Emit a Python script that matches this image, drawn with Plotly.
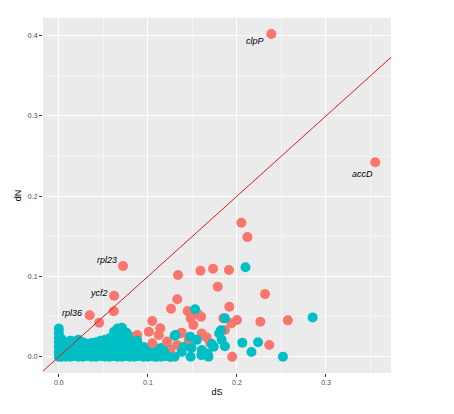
import plotly.graph_objects as go

# Couleurs ggplot par défaut
ROUGE = "#F8766D"
TURQUOISE = "#00BFC4"

# Gènes neutres (dessinés en premier, sous les autres)
ds_neutres_bas = [
    0.000, 0.000, 0.000, 0.000, 0.000, 0.000, 0.000,
    0.003, 0.003, 0.003, 0.003, 0.003,
    0.008, 0.008, 0.008, 0.008,
    0.013, 0.013, 0.013, 0.013,
    0.018, 0.018, 0.018, 0.018,
    0.022, 0.022, 0.022, 0.022,
    0.027, 0.027, 0.027, 0.027,
    0.032, 0.032, 0.032, 0.032,
    0.037, 0.037, 0.037, 0.037,
    0.042, 0.042, 0.042, 0.042,
    0.047, 0.047, 0.047, 0.047,
    0.052, 0.052, 0.052, 0.052,
    0.057, 0.057, 0.057, 0.057,
    0.062, 0.062, 0.062, 0.062, 0.062,
    0.066, 0.066, 0.066, 0.066, 0.066,
    0.071, 0.071, 0.071, 0.071, 0.071,
    0.076, 0.076, 0.076, 0.076,
    0.080, 0.080, 0.080, 0.080,
    0.085, 0.085, 0.085, 0.085,
    0.090, 0.090, 0.090, 0.090,
    0.095, 0.095, 0.095, 0.095,
    0.100, 0.100, 0.100,
    0.105, 0.105, 0.105,
    0.110, 0.110, 0.110,
    0.115, 0.115, 0.115,
    0.120, 0.120,
    0.125, 0.125,
    0.130, 0.130,
]
dn_neutres_bas = [
    0.000, 0.006, 0.012, 0.018, 0.024, 0.030, 0.035,
    0.000, 0.005, 0.011, 0.016, 0.022,
    0.000, 0.004, 0.010, 0.015,
    0.000, 0.006, 0.012, 0.020,
    0.001, 0.008, 0.014, 0.019,
    0.000, 0.005, 0.011, 0.021,
    0.000, 0.007, 0.013, 0.018,
    0.001, 0.006, 0.012, 0.016,
    0.000, 0.005, 0.010, 0.017,
    0.000, 0.007, 0.013, 0.018,
    0.001, 0.006, 0.012, 0.020,
    0.000, 0.005, 0.011, 0.021,
    0.000, 0.007, 0.014, 0.023,
    0.001, 0.006, 0.013, 0.021, 0.031,
    0.000, 0.008, 0.016, 0.026, 0.035,
    0.000, 0.005, 0.012, 0.020, 0.036,
    0.001, 0.007, 0.015, 0.030,
    0.000, 0.006, 0.013, 0.025,
    0.000, 0.008, 0.016, 0.024,
    0.001, 0.005, 0.011, 0.013,
    0.000, 0.007, 0.010, 0.012,
    0.000, 0.006, 0.011,
    0.001, 0.005, 0.011,
    0.000, 0.008, 0.010,
    0.000, 0.006, 0.011,
    0.001, 0.005,
    0.000, 0.009,
    0.000, 0.026,
]

# Gènes sous sélection
ds_selection = [
    0.2386, 0.3553, 0.205, 0.2118, 0.0721, 0.1338, 0.159, 0.1732, 0.191,
    0.1784, 0.2315, 0.0621, 0.133, 0.1914, 0.126, 0.0346, 0.0617, 0.0453,
    0.1446, 0.148, 0.155, 0.1598, 0.151, 0.157, 0.1847, 0.200, 0.194,
    0.1865, 0.2263, 0.2572, 0.2363, 0.1947, 0.1048, 0.088, 0.101, 0.114,
    0.1122, 0.105, 0.1364, 0.1327, 0.1457, 0.166, 0.170, 0.1215, 0.1605,
    0.125, 0.138,
]
dn_selection = [
    0.402, 0.2422, 0.167, 0.149, 0.113, 0.1018, 0.107, 0.1097, 0.108,
    0.0872, 0.078, 0.076, 0.0715, 0.0623, 0.0598, 0.0516, 0.0566, 0.0424,
    0.057, 0.0478, 0.054, 0.0498, 0.0395, 0.052, 0.0478, 0.0457, 0.0416,
    0.0333, 0.0436, 0.0453, 0.0146, 0.000, 0.0445, 0.027, 0.031, 0.0353,
    0.027, 0.0167, 0.029, 0.0146, 0.021, 0.024, 0.0167, 0.019, 0.029,
    0.007, 0.030,
]

# Gènes neutres dessinés par-dessus
ds_neutres_haut = [
    0.2096, 0.153, 0.1865, 0.285, 0.2516, 0.206, 0.2237, 0.2163, 0.182,
    0.1865, 0.1717, 0.167, 0.180, 0.1828, 0.174, 0.1605, 0.138, 0.148,
    0.168, 0.131, 0.1475, 0.155, 0.125, 0.1075, 0.115, 0.098, 0.140,
    0.080, 0.085, 0.092, 0.118, 0.149, 0.160, 0.088,
]
dn_neutres_haut = [
    0.1114, 0.059, 0.0478, 0.049, 0.000, 0.0175, 0.018, 0.0058, 0.033,
    0.013, 0.0158, 0.004, 0.029, 0.021, 0.0125, 0.0083, 0.006, 0.000,
    0.000, 0.027, 0.025, 0.021, 0.000, 0.000, 0.004, 0.002, 0.012,
    0.010, 0.002, 0.010, 0.006, 0.011, 0.002, 0.020,
]

# Étiquettes de gènes
genes = ["clpP", "accD", "rpl23", "ycf2", "rpl36"]
ds_genes = [0.2207, 0.3408, 0.0546, 0.0453, 0.0149]
dn_genes = [0.3934, 0.228, 0.1209, 0.079, 0.054]

# Droite dN = dS
diagonale = [-0.05, 0.40]

fig = go.Figure()

for xs, ys, coul in [
    (ds_neutres_bas, dn_neutres_bas, TURQUOISE),
    (ds_selection, dn_selection, ROUGE),
    (ds_neutres_haut, dn_neutres_haut, TURQUOISE),
]:
    fig.add_trace(go.Scatter(
        x=xs, y=ys, mode="markers",
        marker=dict(color=coul, size=10, line=dict(width=0)),
        showlegend=False, hoverinfo="x+y",
    ))

fig.add_trace(go.Scatter(
    x=diagonale, y=diagonale, mode="lines",
    line=dict(color="#E41A1C", width=1),
    showlegend=False, hoverinfo="skip",
))

for nom, x, y in zip(genes, ds_genes, dn_genes):
    fig.add_annotation(
        x=x, y=y, text=f"<i>{nom}</i>", showarrow=False,
        font=dict(family="Liberation Sans", size=9, color="black"),
    )

axe = dict(
    showgrid=True, gridcolor="white", gridwidth=1,
    zeroline=False, showline=False,
    ticks="outside", ticklen=3, tickcolor="#333333", tickwidth=1,
    tickformat=".1f", dtick=0.1,
    tickfont=dict(family="Liberation Sans", size=7, color="#4D4D4D"),
    minor=dict(dtick=0.05, showgrid=True, gridcolor="#F5F5F5", gridwidth=0.5),
)

fig.update_layout(
    width=446, height=406,
    plot_bgcolor="#EBEBEB", paper_bgcolor="white",
    margin=dict(l=32, r=63, t=10, b=41),
    xaxis=dict(axe, range=[-0.0178, 0.373], tick0=0,
               title=dict(text="dS", standoff=3,
                          font=dict(family="Liberation Sans", size=9, color="black"))),
    yaxis=dict(axe, range=[-0.0203, 0.422], tick0=0,
               title=dict(text="dN", standoff=4,
                          font=dict(family="Liberation Sans", size=9, color="black"))),
)

fig.write_html("out.html")
